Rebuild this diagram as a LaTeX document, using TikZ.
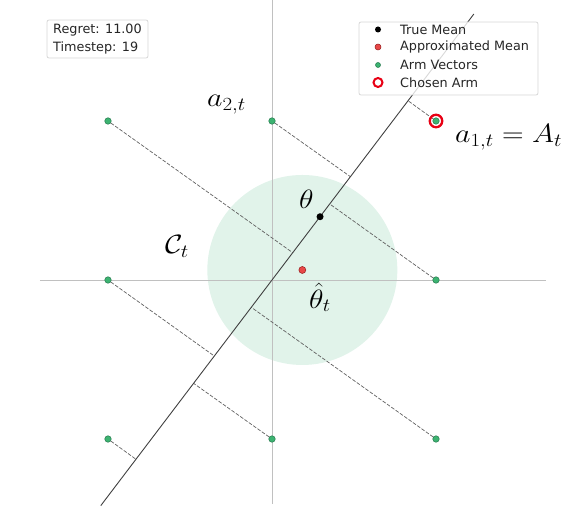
\RequirePackage{fix-cm}
\documentclass[tikz,border=0pt]{standalone}
\usepackage{fontspec}
\newfontfamily\dejavu{DejaVu Sans}
\definecolor{armgreen}{RGB}{60,179,113}
\definecolor{armedge}{RGB}{35,120,75}
\definecolor{meanred}{RGB}{232,72,72}
\definecolor{meanedge}{RGB}{150,25,25}
\definecolor{chosen}{RGB}{232,0,20}
\definecolor{axisgray}{RGB}{192,192,192}
\definecolor{ballfill}{RGB}{225,243,234}
\definecolor{boxgray}{RGB}{215,215,215}
\definecolor{txt}{RGB}{38,38,38}
\tikzset{
  arm/.style={circle,fill=armgreen,draw=armedge,line width=0.5pt,inner sep=0pt,minimum size=6.5pt},
  projline/.style={draw=black!62,line width=0.7pt,dash pattern=on 3.7pt off 1.6pt},
  axisline/.style={draw=axisgray,line width=0.8pt},
  mainline/.style={draw=black!75,line width=0.9pt},
  truedot/.style={circle,fill=black,inner sep=0pt,minimum size=7pt},
  approxdot/.style={circle,fill=meanred,draw=meanedge,line width=0.5pt,inner sep=0pt,minimum size=7pt},
  ring/.style={circle,draw=chosen,line width=2.3pt,inner sep=0pt,minimum size=11pt},
  mlabel/.style={inner sep=0pt,font=\fontsize{26.5}{31}\selectfont,xscale=1.13,transform shape},
  ltext/.style={inner sep=0pt,anchor=west,font=\dejavu\fontsize{12.8}{15}\selectfont,text=txt},
  frame/.style={draw=boxgray,line width=0.8pt,rounded corners=2pt,fill=white,fill opacity=0.8}
}
\begin{document}
\begin{tikzpicture}[x=164pt,y=159pt]
\useasboundingbox (-272pt,-236pt) rectangle (300pt,280pt);
% confidence ball
\fill[ballfill] (0.185,0.063) circle[radius=95pt];
% axes
\coordinate (xl) at (-232pt,0);
\coordinate (xr) at (274pt,0);
\coordinate (yt) at (0,280pt);
\coordinate (yb) at (0,-224pt);
\draw[axisline] (xl) -- (xr);
\draw[axisline] (yt) -- (yb);
% projections on the line
\coordinate (p1) at (0.830,1.127);
\coordinate (p2) at (0.478,0.650);
\coordinate (p3) at (0.126,0.172);
\coordinate (p4) at (0.352,0.478);
\coordinate (p5) at (-0.352,-0.478);
\coordinate (p6) at (-0.478,-0.650);
\coordinate (p7) at (-0.126,-0.172);
\coordinate (p8) at (-0.830,-1.127);
% arms
\node[arm] (a1) at (1,1) {};
\node[arm] (a2) at (0,1) {};
\node[arm] (a3) at (-1,1) {};
\node[arm] (a4) at (1,0) {};
\node[arm] (a5) at (-1,0) {};
\node[arm] (a6) at (0,-1) {};
\node[arm] (a7) at (1,-1) {};
\node[arm] (a8) at (-1,-1) {};
\draw[projline] (a1) -- (p1);
\draw[projline] (a2) -- (p2);
\draw[projline] (a3) -- (p3);
\draw[projline] (a4) -- (p4);
\draw[projline] (a5) -- (p5);
\draw[projline] (a6) -- (p6);
\draw[projline] (a7) -- (p7);
\draw[projline] (a8) -- (p8);
% main line
\coordinate (ls) at (-1.044,-1.419);
\coordinate (le) at (1.231,1.673);
\draw[mainline] (ls) -- (le);
% means
\node[truedot] (theta) at (0.293,0.398) {};
\node[approxdot] (thetahat) at (0.185,0.063) {};
\node[ring,minimum size=12.5pt] (chosenarm) at (1,1) {};
% math labels
\node[mlabel,anchor=base west] (la2) at (-65pt,173pt) {$a_{2,t}$};
\node[mlabel,anchor=base west] (lth) at (27pt,71pt) {$\theta$};
\node[mlabel,anchor=base west] (lC) at (-107pt,26pt) {$\mathcal{C}_t$};
\node[mlabel,anchor=base west] (lthh) at (37pt,-28pt) {$\hat{\theta}_t$};
\node[mlabel,anchor=base west] (la1) at (183pt,137pt) {$a_{1,t} = A_t$};
% regret box
\draw[frame] (-225pt,222pt) rectangle (-124pt,260pt);
\node[ltext] (reg) at (-219pt,250pt) {Regret: 11.00};
\node[ltext] (ts) at (-219pt,232pt) {Timestep: 19};
% legend
\draw[frame] (87pt,185pt) rectangle (266pt,258pt);
\node[truedot,minimum size=6pt] (m1) at (106pt,250.5pt) {};
\node[approxdot,minimum size=6pt] (m2) at (106pt,233pt) {};
\node[arm,minimum size=5pt] (m3) at (106pt,215pt) {};
\node[ring,line width=2pt,minimum size=9pt] (m4) at (106pt,197.5pt) {};
\node[ltext] (t1) at (128pt,250.5pt) {True Mean};
\node[ltext] (t2) at (128pt,233pt) {Approximated Mean};
\node[ltext] (t3) at (128pt,215pt) {Arm Vectors};
\node[ltext] (t4) at (128pt,197.5pt) {Chosen Arm};
\end{tikzpicture}
\end{document}
